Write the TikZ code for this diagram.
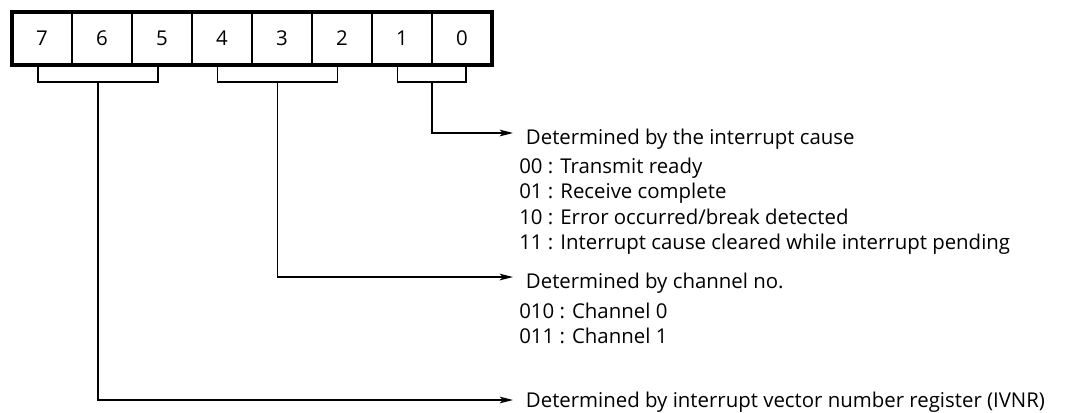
\documentclass[tikz,border=0pt]{standalone}
\usepackage{fontspec}
\setmainfont{Open Sans}
\usetikzlibrary{arrows.meta, positioning}

\tikzset{
  cell/.style={draw, line width=1pt, minimum width=45pt, minimum height=39.75pt, inner sep=0pt, outer sep=0pt},
  bracket/.style={line width=1.1pt},
  feed/.style={line width=1.1pt, -{Stealth[length=10pt, width=5pt, inset=2.5pt]}},
  head/.style={anchor=base west, inner xsep=9.5pt, inner ysep=0pt},
  item/.style={anchor=base west, inner sep=0pt}
}

\begin{document}
\begin{tikzpicture}[x=0.75pt, y=-0.75pt, every node/.style={font=\fontsize{15.3}{18}\selectfont}]
  \useasboundingbox (0,0) rectangle (1070,413);
  % register bits
  \node[cell] (b7) at (42,38.5) {7};
  \node[cell, right=0pt of b7] (b6) {6};
  \node[cell, right=0pt of b6] (b5) {5};
  \node[cell, right=0pt of b5] (b4) {4};
  \node[cell, right=0pt of b4] (b3) {3};
  \node[cell, right=0pt of b3] (b2) {2};
  \node[cell, right=0pt of b2] (b1) {1};
  \node[cell, right=0pt of b1] (b0) {0};
  \draw[line width=2.4pt] (b7.north west) rectangle (b0.south east);

  % bit groups
  \coordinate (g3) at ([shift={(-3pt,-12.75pt)}]b6.south);
  \coordinate (g2) at ([shift={(-3.5pt,-12.75pt)}]b3.south);
  \coordinate (g1) at ([yshift=-12.75pt]b1.south east);
  \draw[bracket] ([xshift=-3pt]b7.south) |- (g3) -| ([xshift=-3pt]b5.south);
  \draw[bracket] ([xshift=-3.5pt]b4.south) |- (g2) -| ([xshift=-3.5pt]b2.south);
  \draw[bracket] ([xshift=-3.5pt]b1.south) |- (g1) -| ([xshift=3pt]b0.south);

  % texts
  \node[head] (cause) at (513,145) {Determined by the interrupt cause};
  \node[item] (c00) at (519,174) {00 : Transmit ready};
  \node[item] (c01) at (519,199) {01 : Receive complete};
  \node[item] (c10) at (519,224.5) {10 : Error occurred/break detected};
  \node[item] (c11) at (519,250) {11 : Interrupt cause cleared while interrupt pending};
  \node[head] (chan) at (513,288.5) {Determined by channel no.};
  \node[item] (ch0) at (519,318) {010 : Channel 0};
  \node[item] (ch1) at (519,343) {011 : Channel 1};
  \node[head] (ivnr) at (513,407) {Determined by interrupt vector number register (IVNR)};

  % arrows
  \draw[feed] (g1) |- ([yshift=9pt]cause.base west);
  \draw[feed] (g2) |- ([yshift=8.6pt]chan.base west);
  \draw[feed] (g3) |- ([yshift=5.25pt]ivnr.base west);
\end{tikzpicture}
\end{document}
